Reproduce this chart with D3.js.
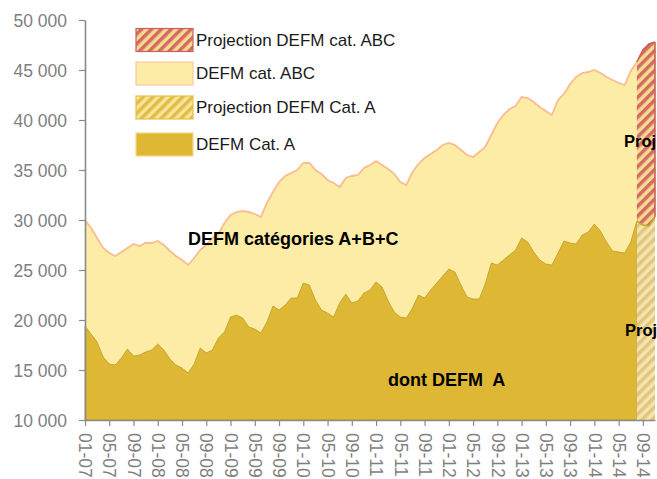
<!DOCTYPE html>
<html><head><meta charset="utf-8">
<script src="https://cdn.jsdelivr.net/npm/d3@7"></script>
<style>
html,body{margin:0;padding:0;background:#fff;}
svg{display:block;font-family:Arial,"Liberation Sans",sans-serif;}
</style></head>
<body>
<svg id="chart" width="657" height="479"></svg>
<script>
// ---- data ----
const months = [
"01-07","02-07","03-07","04-07","05-07","06-07","07-07","08-07","09-07","10-07","11-07","12-07",
"01-08","02-08","03-08","04-08","05-08","06-08","07-08","08-08","09-08","10-08","11-08","12-08",
"01-09","02-09","03-09","04-09","05-09","06-09","07-09","08-09","09-09","10-09","11-09","12-09",
"01-10","02-10","03-10","04-10","05-10","06-10","07-10","08-10","09-10","10-10","11-10","12-10",
"01-11","02-11","03-11","04-11","05-11","06-11","07-11","08-11","09-11","10-11","11-11","12-11",
"01-12","02-12","03-12","04-12","05-12","06-12","07-12","08-12","09-12","10-12","11-12","12-12",
"01-13","02-13","03-13","04-13","05-13","06-13","07-13","08-13","09-13","10-13","11-13","12-13",
"01-14","02-14","03-14","04-14","05-14","06-14","07-14","08-14","09-14","10-14","11-14"];
const tickLabels = ["01-07","05-07","09-07","01-08","05-08","09-08","01-09","05-09","09-09","01-10","05-10","09-10",
"01-11","05-11","09-11","01-12","05-12","09-12","01-13","05-13","09-13","01-14","05-14","09-14"];
const yTicks = [10000,15000,20000,25000,30000,35000,40000,45000,50000];

// DEFM cat. ABC (01-07 .. 08-14)
const defmABC = [30000,29200,28200,27200,26700,26400,26800,27200,27600,27400,27700,27700,
27900,27500,26900,26400,26000,25500,26200,27000,27500,28200,28600,29700,
30500,30800,30900,30800,30600,30300,31700,32800,33800,34400,34700,35000,
35700,35700,35000,34600,34000,33700,33300,34200,34400,34500,35200,35500,
35900,35500,35100,34600,33800,33500,34800,35600,36200,36600,37000,37500,
37700,37500,37000,36500,36300,36800,37300,38500,39700,40500,41100,41400,
42300,42200,41800,41300,40900,40500,42000,42600,43600,44300,44700,44800,
45000,44700,44300,44000,43700,43500,44900,45800];
// DEFM Cat. A (01-07 .. 08-14)
const defmA = [19400,18600,17800,16300,15600,15500,16200,17100,16400,16500,16800,17000,
17600,17000,16100,15500,15200,14700,15600,17200,16700,17000,18200,18800,
20300,20500,20200,19300,19100,18700,19800,21400,21000,21500,22200,22200,
23700,23500,22000,21000,20700,20300,21700,22600,21700,21900,22700,23000,
23800,23300,21900,20800,20300,20200,21200,22500,22200,23000,23700,24400,
25100,24800,23500,22300,22100,22100,23600,25700,25500,26000,26500,27000,
28200,27800,26800,26000,25600,25500,26700,27900,27700,27600,28500,28800,
29600,28900,27800,26900,26800,26700,27800,29900];
// Projections (08-14 .. 11-14)
const projStart = 91;
const projABC = [45800,47000,47600,47800];
const projA = [29900,29500,29400,30300];

const legendLabels = ["Projection DEFM cat. ABC","DEFM cat. ABC","Projection DEFM Cat. A","DEFM Cat. A"];

// ---- chart ----
const svg = d3.select("#chart");
const x = d3.scaleLinear().domain([0, months.length - 1]).range([85, 655]);
const y = d3.scaleLinear().domain([10000, 50000]).range([420, 20]);

const defs = svg.append("defs");
function hatch(id, bg, fg, w) {
  const p = defs.append("pattern").attr("id", id).attr("patternUnits", "userSpaceOnUse")
    .attr("width", 7).attr("height", 7).attr("patternTransform", "rotate(45)");
  p.append("rect").attr("width", 7).attr("height", 7).attr("fill", bg);
  p.append("rect").attr("width", w).attr("height", 7).attr("fill", fg);
}
hatch("hRed", "#f7dc8e", "#d26a66", 3.5);
hatch("hTan", "#f4e3b4", "#e2c77a", 3.5);
hatch("hGold", "#f8e49a", "#e2bd45", 3.5);

const real = defmABC.map((v, i) => ({i, abc: v, a: defmA[i]}));
const proj = projABC.map((v, k) => ({i: projStart + k, abc: v, a: projA[k]}));

// ABC area
svg.append("path").datum(real)
  .attr("d", d3.area().x(d => x(d.i)).y0(y(10000)).y1(d => y(d.abc)))
  .attr("fill", "#fdeca6");
svg.append("path").datum(real)
  .attr("d", d3.line().x(d => x(d.i)).y(d => y(d.abc)))
  .attr("fill", "none").attr("stroke", "#f9bd8f").attr("stroke-width", 1.8);

// A area
svg.append("path").datum(real)
  .attr("d", d3.area().x(d => x(d.i)).y0(y(10000)).y1(d => y(d.a)))
  .attr("fill", "#deb734").attr("stroke", "#b8961e").attr("stroke-width", 0.7);

// projection ABC (between A proj and ABC proj)
svg.append("path").datum(proj)
  .attr("d", d3.area().x(d => x(d.i)).y0(d => y(d.a)).y1(d => y(d.abc)))
  .attr("fill", "url(#hRed)");
svg.append("path").datum(proj)
  .attr("d", d3.line().x(d => x(d.i)).y(d => y(d.abc)))
  .attr("fill", "none").attr("stroke", "#c9605c").attr("stroke-width", 1.6);
svg.append("line").attr("x1", x(proj[proj.length-1].i)).attr("x2", x(proj[proj.length-1].i))
  .attr("y1", y(proj[proj.length-1].abc)).attr("y2", y(proj[proj.length-1].a))
  .attr("stroke", "#c9605c").attr("stroke-width", 1.6);

// projection A
svg.append("path").datum(proj)
  .attr("d", d3.area().x(d => x(d.i)).y0(y(10000)).y1(d => y(d.a)))
  .attr("fill", "url(#hTan)");
svg.append("path").datum(proj)
  .attr("d", d3.line().x(d => x(d.i)).y(d => y(d.a)))
  .attr("fill", "none").attr("stroke", "#c9a52a").attr("stroke-width", 1.6);

// axes
const fmt = d => d3.format(",")(d).replace(/,/g, " ");
const gy = svg.append("g").attr("transform", "translate(85,0)")
  .call(d3.axisLeft(y).tickValues(yTicks).tickFormat(fmt).tickSize(6).tickSizeOuter(0).tickPadding(12));
gy.selectAll("text").attr("fill", "#7f7f7f").style("font-size", "17.5px").attr("dy", "0.36em");

const tickIdx = tickLabels.map(t => months.indexOf(t));
const gx = svg.append("g").attr("transform", "translate(0,420)")
  .call(d3.axisBottom(x).tickValues(tickIdx).tickFormat(i => months[i]).tickSize(6).tickSizeOuter(0));
gx.selectAll("text").attr("fill", "#7f7f7f").style("font-size", "17.5px")
  .attr("text-anchor", "start").attr("transform", "rotate(90)")
  .attr("x", 13).attr("y", 0).attr("dy", "0.36em");
[gx, gy].forEach(g => {
  g.select(".domain").attr("stroke", "#8a8a8a").attr("stroke-width", 1.6);
  g.selectAll(".tick line").attr("stroke", "#8a8a8a").attr("stroke-width", 1.2);
});

// legend
const legFills = ["url(#hRed)", "#fdeca6", "url(#hGold)", "#deb734"];
const legStrokes = ["#c9605c", "#f9c8a0", "#e6c04a", "#f3d98a"];
const legY = [28.5, 62, 96, 133];
legendLabels.forEach((t, k) => {
  svg.append("rect").attr("x", 136).attr("y", legY[k]).attr("width", 57).attr("height", 23)
    .attr("fill", legFills[k]).attr("stroke", legStrokes[k]).attr("stroke-width", 1.2);
  svg.append("text").attr("x", 196).attr("y", legY[k] + 17).text(t)
    .attr("fill", "#1a1a1a").style("font-size", "17px");
});

// annotations
const ann = [
  {t: "DEFM catégories A+B+C", x: 188, y: 245, s: 18},
  {t: "dont DEFM  A", x: 388, y: 386, s: 18},
  {t: "Proj", x: 624, y: 147, s: 16.5},
  {t: "Proj", x: 625, y: 336, s: 16.5}
];
ann.forEach(a => svg.append("text").attr("x", a.x).attr("y", a.y).text(a.t)
  .attr("fill", "#000").style("font-weight", "bold").style("font-size", a.s + "px")
  .style("white-space", "pre"));
</script>
</body></html>
